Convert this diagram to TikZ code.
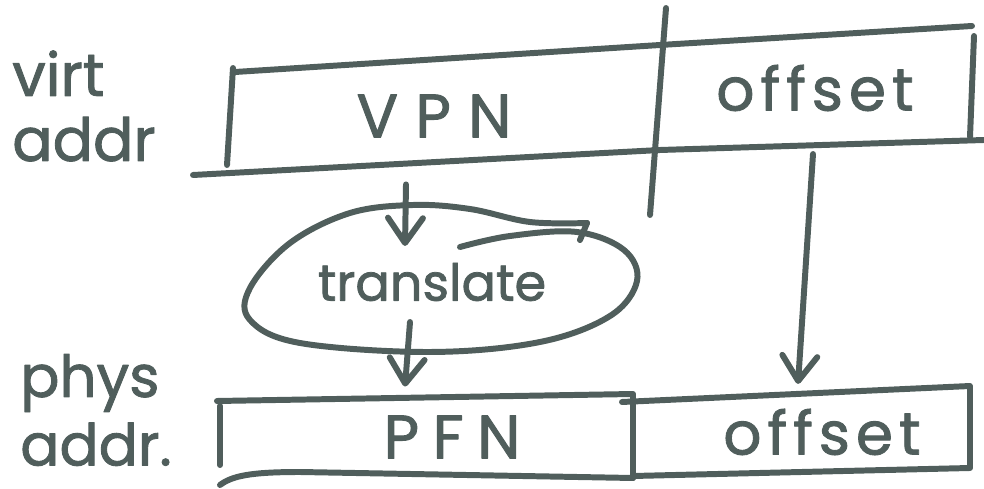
\documentclass[tikz,border=0pt]{standalone}
\usepackage{fontspec}
\newfontfamily\hand[FakeBold=1.5]{Poppins}
\usetikzlibrary{arrows.meta,calc}
\definecolor{ink}{RGB}{80,94,92}

\begin{document}
\begin{tikzpicture}[x=0.02cm,y=-0.02cm,color=ink,
				line width=3.4pt,line cap=round,line join=round,
				word/.style={font=\hand\fontsize{34}{40}\selectfont\addfontfeature{LetterSpace=10},inner sep=0pt},
				side/.style={inner sep=0pt,align=left},
				tip/.style={-{Straight Barb[length=5mm,width=7mm,round]}}]
\useasboundingbox (0,0) rectangle (984,489);

	\node[word,font=\hand\fontsize{35}{40}\selectfont\addfontfeature{LetterSpace=28}] (vpn) at (434,116) {VPN};
	\node[word] (voff) at (815,88) {offset};
	\node[word,font=\hand\fontsize{29}{40}\selectfont] (tr) at (432,282) {translate};
	\node[word,font=\hand\fontsize{35}{40}\selectfont\addfontfeature{LetterSpace=22}] (pfn) at (452,437) {PFN};
	\node[word] (poff) at (822,432) {offset};
	\node[side,font=\hand\fontsize{34}{37}\selectfont] (vlab) at (84,106) {virt\\addr};
	\node[side,font=\hand\fontsize{33}{39}\selectfont] (plab) at (96,410) {phys\\addr.};

  % virtual address fields
	\draw (235,72) -- (660,45) -- (972,26);
	\draw (974,36) -- (970,137);
	\draw (233,68) -- (227,165);
	\draw (193,175) -- (660,150) -- (984,140);
	\draw (666,8) -- (650,215);

  % physical address fields
	\draw (217,401) -- (633,394) -- (633,478);
	\draw (220,406) -- (220,465);
	\draw (220,485) .. controls (232,476) and (250,472) .. (300,472) -- (633,478);
	\draw (622,402) -- (970,386) -- (970,468) -- (633,476);

  % translation step
	\draw plot[smooth,tension=0.6] coordinates {(587,223) (530,222) (470,209)
		(413,205) (350,213) (290,243) (250,288) (250,320) (300,343) (430,352)
		(540,342) (610,316) (637,281) (624,250) (577,232) (510,236) (460,247)};
	\draw (587,223) -- (580,240);

	\draw[tip] ($(vpn.south)+(-28,44)$) -- ($(tr.north)+(-27,-14)$);
	\draw[tip] ($(tr.south)+(-22,18)$) -- ($(pfn.north)+(-47,-26)$);
	\draw[tip] ($(voff.south)+(-2,40)$) -- ($(poff.north)+(-24,-22)$);
\end{tikzpicture}
\end{document}
